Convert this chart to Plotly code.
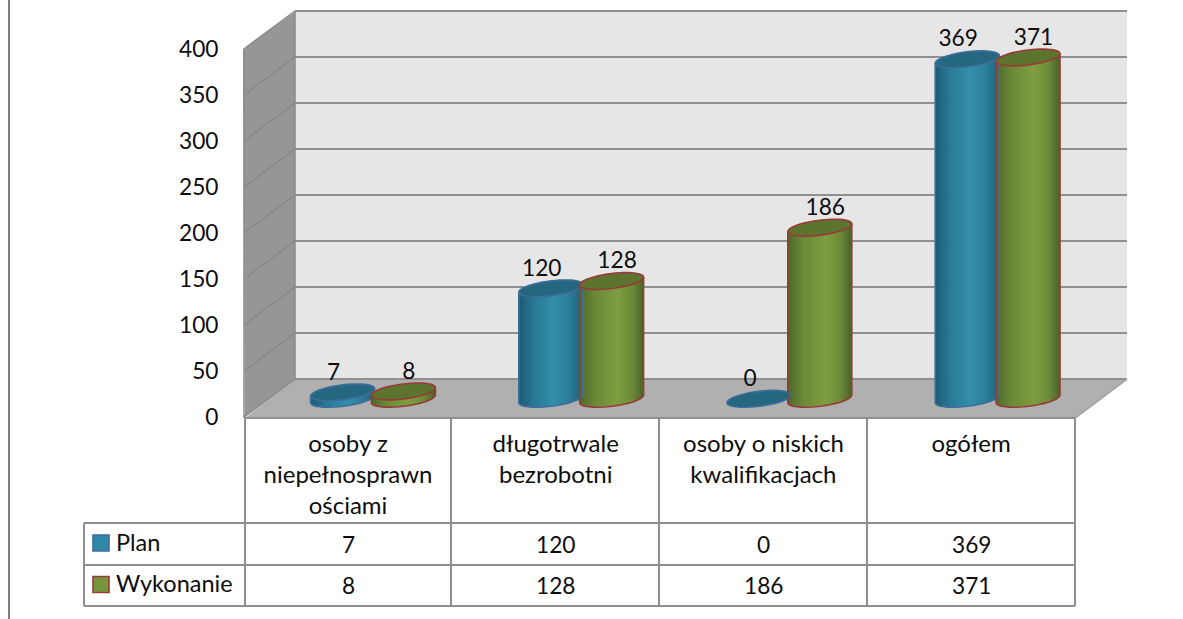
import math
import plotly.graph_objects as go

categories = ["osoby z<br>niepełnosprawn<br>ościami", "długotrwale<br>bezrobotni",
              "osoby o niskich<br>kwalifikacjach", "ogółem"]
plan = [7, 120, 0, 369]
wykonanie = [8, 128, 186, 371]
series_names = ["Plan", "Wykonanie"]
axis_ticks = [0, 50, 100, 150, 200, 250, 300, 350, 400]

W, H = 1183, 619
FONT = "Lato"
FS = 24
FN = 22.7
TXT = "#0d0d0d"
GRID = "#8f8f8f"

PX_PER_UNIT = 0.92
BAR_ZERO_PX = 398.8
FRONT_ZERO_PX = 417.0
BACK_ZERO_PX = 379.0
CAT_PX = 208.2
BAR_C0 = 373.0
CELL_C0 = 348.0
CELL_PX = 207.7
A_PX, B_PX, SHEAR = 32.0, 7.5, 0.12
OFFSET_PX = 30.4
LABEL_UP = 18.5
N = 32

BLUE = {"stops": [(0, "#1d5a73"), (.25, "#2a7a96"), (.55, "#338eab"), (.8, "#2c7d99"), (1, "#1e5f78")],
        "top": "#25677f", "line": "#3c6e9c", "key": "#2f88a8"}
GREEN = {"stops": [(0, "#4f6829"), (.25, "#6c8a38"), (.6, "#7f9e41"), (.82, "#6c8a38"), (1, "#4c6226")],
         "top": "#5d742e", "line": "#9a3a38", "key": "#76963b"}


def color_at(stops, t):
    for (t0, c0), (t1, c1) in zip(stops, stops[1:]):
        if t <= t1:
            f = (t - t0) / (t1 - t0)
            rgb = [round(int(c0[i:i+2], 16) * (1 - f) + int(c1[i:i+2], 16) * f) for i in (1, 3, 5)]
            return "rgb(%d,%d,%d)" % tuple(rgb)
    return stops[-1][1]


def px(x):
    return x / W


def py(y):
    return 1 - y / H


fig = go.Figure()
shapes = []
annotations = []


def poly(points, fill, line=None, lw=0, layer="below"):
    path = "M " + " L ".join(f"{px(x):.5f},{py(y):.5f}" for x, y in points) + " Z"
    shapes.append(dict(type="path", path=path, xref="paper", yref="paper",
                       fillcolor=fill, line=dict(color=line or fill, width=lw), layer=layer))


def seg(x0, y0, x1, y1, color=GRID, w=2, layer="below"):
    shapes.append(dict(type="line", xref="paper", yref="paper", x0=px(x0), x1=px(x1), y0=py(y0), y1=py(y1),
                       line=dict(color=color, width=w), layer=layer))


# walls and floor
poly([(295, 12), (1127, 12), (1127, 379), (295, 379)], "#e6e6e6")
poly([(243, 49), (295, 12), (295, 379), (245, 417)], "#969696")
poly([(295, 379), (1127, 379), (1075, 418), (245, 418)], "#b0b0b0")
for t in axis_ticks:
    yb = BACK_ZERO_PX - t * PX_PER_UNIT
    yf = FRONT_ZERO_PX - t * PX_PER_UNIT
    seg(244, yf, 295, yb, "#8a8a8a", 1.5)
    seg(295, yb, 1127, yb)
seg(244, 49, 244, 418, "#8a8a8a", 1.5)
seg(295, 12, 295, 379, "#8a8a8a", 1.5)
seg(1127, 379, 1075, 418, "#a6a6a6")

# data table
cols = [245, 451, 659, 867, 1075]
for c in cols:
    seg(c, 418, c, 606)
for r in (418, 523, 565, 606):
    seg(84 if r != 418 else 245, r, 1075, r)
seg(84, 523, 84, 606)
seg(9, 0, 9, H, "#7f7f7f")

# cylinders
for series, vals, style, sign, lab in ((0, plan, BLUE, -1, -9.0), (1, wykonanie, GREEN, 1, 5.5)):
    idx = list(range(len(vals)))
    for k in range(N):
        t0 = k / N
        t = (k + .5) / N
        dx_px = (t * 2 - 1) * A_PX
        top_u = SHEAR * dx_px / PX_PER_UNIT
        low_u = (SHEAR * dx_px - B_PX * math.sqrt(max(0, 1 - (dx_px / A_PX) ** 2))) / PX_PER_UNIT
        off = (sign * OFFSET_PX + (t0 * 2 - 1) * A_PX) / CAT_PX
        wd = (2 * A_PX / N) / CAT_PX * (1.0 if k == N - 1 else 1.35)
        fig.add_trace(go.Bar(x=idx, y=[v + top_u - low_u for v in vals], base=[low_u] * len(vals),
                             width=wd, offset=off, xaxis="x", yaxis="y2", showlegend=False, hoverinfo="skip",
                             name=series_names[series],
                             marker=dict(color=color_at(style["stops"], t), line=dict(width=0))))
    for i, v in zip(idx, vals):
        cx = i + sign * OFFSET_PX / CAT_PX
        angs = [j * math.pi / 24 for j in range(49)]
        ell = [(cx + A_PX * math.cos(a) / CAT_PX,
                v + (SHEAR * A_PX * math.cos(a) + B_PX * math.sin(a)) / PX_PER_UNIT) for a in angs]
        low = [(cx + A_PX * math.cos(a) / CAT_PX,
                (SHEAR * A_PX * math.cos(a) - B_PX * abs(math.sin(a))) / PX_PER_UNIT)
               for a in [math.pi + j * math.pi / 24 for j in range(25)]]
        if v > 0:
            body = [(cx - A_PX / CAT_PX, v - SHEAR * A_PX / PX_PER_UNIT)] + low + [(cx + A_PX / CAT_PX, v + SHEAR * A_PX / PX_PER_UNIT)]
            shapes.append(dict(type="path", xref="x", yref="y2", layer="above",
                               path="M " + " L ".join(f"{a:.4f},{b:.3f}" for a, b in body),
                               line=dict(color=style["line"], width=1.6)))
        shapes.append(dict(type="path", xref="x", yref="y2", layer="above",
                           path="M " + " L ".join(f"{a:.4f},{b:.3f}" for a, b in ell) + " Z",
                           fillcolor=style["top"], line=dict(color=style["line"], width=1.6)))
    # data labels
    fig.add_trace(go.Scatter(x=[i + (sign * OFFSET_PX + lab) / CAT_PX for i in idx],
                             y=[v + LABEL_UP / PX_PER_UNIT for v in vals], text=[str(v) for v in vals],
                             mode="text", textposition="middle center", xaxis="x", yaxis="y2",
                             textfont=dict(family=FONT, size=FN, color=TXT),
                             showlegend=False, hoverinfo="skip"))

# helper trace that makes the label axes render
fig.add_trace(go.Scatter(x=[0, 3], y=[0, 400], mode="none", xaxis="x2", yaxis="y",
                         showlegend=False, hoverinfo="skip"))

# table text
for name, vals, row_y, style, key_y in (("Plan", plan, 544, BLUE, 543), ("Wykonanie", wykonanie, 585, GREEN, 584.5)):
    annotations.append(dict(text=name, xref="paper", yref="paper", x=px(114), y=py(row_y - 2),
                            xanchor="left", yanchor="middle", showarrow=False,
                            font=dict(family=FONT, size=FS - 0.5, color=TXT)))
    shapes.append(dict(type="rect", xref="paper", yref="paper", x0=px(93), x1=px(109), y0=py(key_y - 8), y1=py(key_y + 8),
                       fillcolor=style["key"], line=dict(color=style["line"], width=1.6)))
    for i, v in enumerate(vals):
        annotations.append(dict(text=str(v), xref="x2", yref="paper", x=i, y=py(row_y),
                                xanchor="center", yanchor="middle", showarrow=False,
                                font=dict(family=FONT, size=FN, color=TXT)))

fig.update_layout(
    width=W, height=H, autosize=False, margin=dict(l=0, r=0, t=0, b=0),
    paper_bgcolor="white", plot_bgcolor="rgba(0,0,0,0)", barmode="overlay", showlegend=False,
    shapes=shapes, annotations=annotations,
    font=dict(family=FONT, size=FS, color=TXT),
    xaxis=dict(domain=[0, 1], range=[(0 - BAR_C0) / CAT_PX, (W - BAR_C0) / CAT_PX], visible=False, fixedrange=True),
    xaxis2=dict(domain=[0, 1], range=[(0 - CELL_C0) / CELL_PX, (W - CELL_C0) / CELL_PX],
                tickmode="array", tickvals=list(range(4)), ticktext=categories,
                tickfont=dict(family=FONT, size=FS, color=TXT), anchor="free", position=py(418), side="bottom",
                ticks="outside", ticklen=4, tickcolor="rgba(0,0,0,0)", showgrid=False, zeroline=False, showline=False,
                tickangle=0, overlaying="x", fixedrange=True),
    yaxis=dict(domain=[0, 1], range=[(FRONT_ZERO_PX - H) / PX_PER_UNIT, FRONT_ZERO_PX / PX_PER_UNIT],
               tickmode="array", tickvals=axis_ticks, tickfont=dict(family=FONT, size=FN, color=TXT),
               anchor="free", position=px(243), side="left", ticks="outside", ticklen=20,
               tickcolor="rgba(0,0,0,0)", showgrid=False, zeroline=False, showline=False, fixedrange=True),
    yaxis2=dict(domain=[0, 1], range=[(BAR_ZERO_PX - H) / PX_PER_UNIT, BAR_ZERO_PX / PX_PER_UNIT],
                overlaying="y", visible=False, fixedrange=True),
)

fig.write_html("out.html", config={"displayModeBar": False},
               post_script="document.body.style.margin='0';document.body.style.overflow='hidden';")
